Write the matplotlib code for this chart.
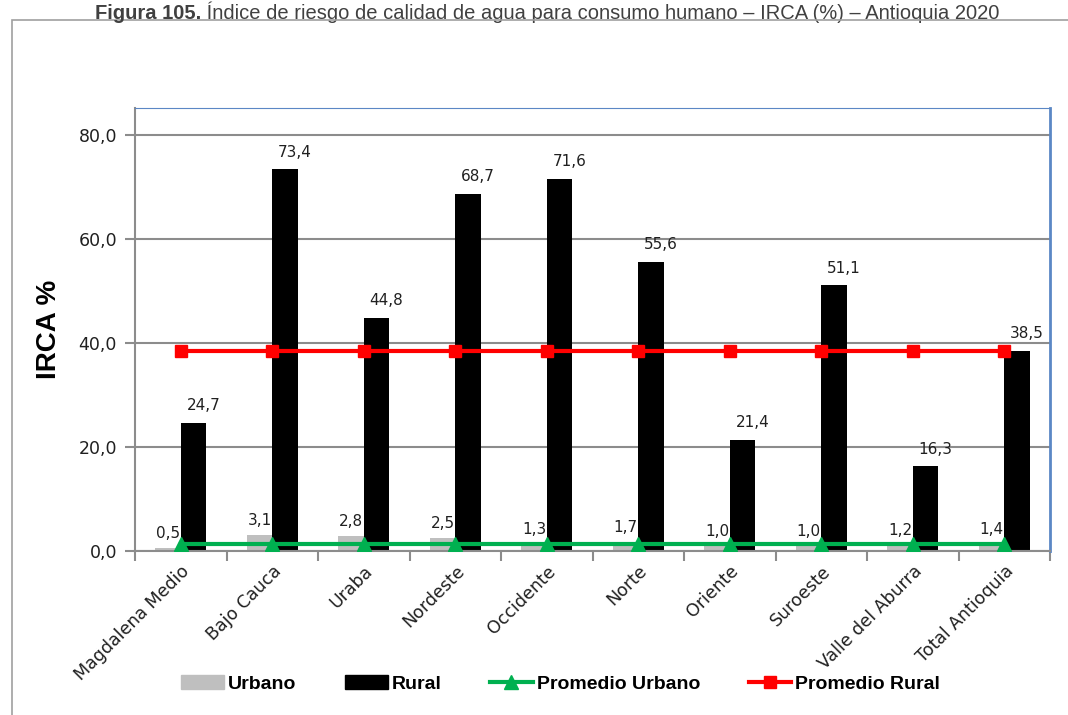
import numpy as np
import matplotlib
matplotlib.use('Agg')
import matplotlib.pyplot as plt
from matplotlib.patches import Rectangle, Patch
from matplotlib.lines import Line2D

# data
regiones = ['Magdalena Medio', 'Bajo Cauca', 'Uraba', 'Nordeste', 'Occidente',
            'Norte', 'Oriente', 'Suroeste', 'Valle del Aburra', 'Total Antioquia']
urbano = [0.5, 3.1, 2.8, 2.5, 1.3, 1.7, 1.0, 1.0, 1.2, 1.4]
rural = [24.7, 73.4, 44.8, 68.7, 71.6, 55.6, 21.4, 51.1, 16.3, 38.5]
prom_urbano = 1.4
prom_rural = 38.5
yticks = [0, 20, 40, 60, 80]

fig = plt.figure(figsize=(10.68, 7.15), dpi=100)

# outer frame of the figure box
fig.patches.append(Rectangle((12/1068, -0.05), 1.2, (715-20)/715 + 0.05,
                             transform=fig.transFigure, fill=False,
                             edgecolor='#a0a0a0', lw=1.2))

ax = fig.add_axes([135/1068, 1-551/715, (1050-135)/1068, (551-108)/715])

# title at the very top
t1 = fig.text(0.089, 0.995, 'Figura 105.', fontsize=14.5, fontweight='bold',
              family='Liberation Sans', color='#404040', va='top', ha='left')
ax.annotate(u' Índice de riesgo de calidad de agua para consumo humano \u2013 IRCA (%) \u2013 Antioquia 2020',
            xy=(1, 0), xycoords=t1, va='bottom', ha='left',
            fontsize=14.5, family='Liberation Sans', color='#404040',
            annotation_clip=False)

x = np.arange(len(regiones))
w = 0.28
ax.bar(x - w/2, urbano, width=w, color='#bfbfbf', zorder=2)
ax.bar(x + w/2, rural, width=w, color='black', zorder=2)

ax.plot(x, [prom_urbano]*len(x), color='#00b050', lw=3, marker='^', ms=10, zorder=4)
ax.plot(x, [prom_rural]*len(x), color='#ff0000', lw=3, marker='s', ms=9, zorder=4)

for i in range(len(x)):
    ax.annotate('{:.1f}'.format(urbano[i]).replace('.', ','), (x[i] - w/2, urbano[i]),
                xytext=(0, 5), textcoords='offset points', ha='center', va='bottom',
                fontsize=11, family='DejaVu Sans', color='#202020', zorder=5)
    ax.annotate('{:.1f}'.format(rural[i]).replace('.', ','), (x[i] + w/2, rural[i]),
                xytext=(7, 7), textcoords='offset points', ha='center', va='bottom',
                fontsize=11, family='DejaVu Sans', color='#202020', zorder=5)

ax.set_xlim(-0.5, len(x) - 0.5)
ax.set_ylim(0, 85.2)
ax.set_yticks(yticks)
ax.set_yticklabels(['{:.1f}'.format(v).replace('.', ',') for v in yticks],
                   fontsize=12.5, family='DejaVu Sans', color='#202020')
ax.yaxis.grid(True, color='#8c8c8c', lw=1.5, zorder=0)
ax.set_axisbelow(True)

ax.set_xticks(x)
ax.set_xticklabels(regiones, rotation=45, ha='right', rotation_mode='anchor',
                   fontsize=12.5, family='DejaVu Sans', color='#202020')
ax.set_xticks(np.arange(-0.5, len(x), 1), minor=True)
ax.tick_params(axis='x', which='major', length=0, pad=8)
ax.tick_params(axis='x', which='minor', length=7, color='#8c8c8c', width=1.5)
ax.tick_params(axis='y', length=7, color='#8c8c8c', width=1.5, pad=6)

ax.spines['left'].set_color('#8c8c8c')
ax.spines['bottom'].set_color('#8c8c8c')
ax.spines['left'].set_linewidth(1.5)
ax.spines['bottom'].set_linewidth(1.5)
ax.spines['top'].set_color('#5b87c5')
ax.spines['right'].set_color('#5b87c5')
ax.spines['right'].set_linewidth(2)

ax.set_ylabel('IRCA %', fontsize=20, fontweight='bold', family='Liberation Sans', labelpad=12)

handles = [Patch(color='#bfbfbf'), Patch(color='black'),
           Line2D([], [], color='#00b050', lw=3, marker='^', ms=10),
           Line2D([], [], color='#ff0000', lw=3, marker='s', ms=9)]
labels = ['Urbano', 'Rural', 'Promedio Urbano', 'Promedio Rural']
fig.legend(handles, labels, loc='center', bbox_to_anchor=(0.525, 1-684/715), ncol=4,
           frameon=False, prop={'family': ['Liberation Sans Narrow', 'Liberation Sans'],
                                'weight': 'bold', 'size': 14},
           handlelength=2.2, handletextpad=0.2, columnspacing=2.5)

fig.savefig('out.png', dpi=100)
